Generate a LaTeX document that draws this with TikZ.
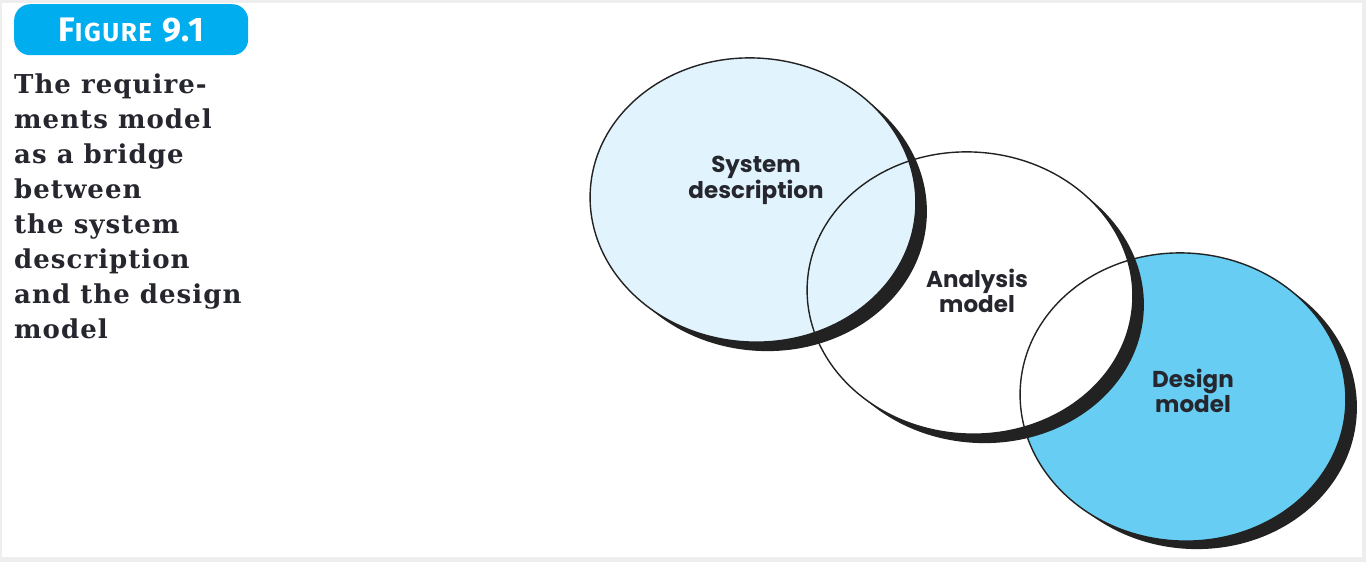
\documentclass[tikz,border=0pt]{standalone}
\usepackage{fontspec}
\setmainfont{DejaVu Serif}[LetterSpace=4]
\newfontfamily\labelfont{Poppins}
\newfontfamily\badgefont{Fira Sans}[LetterSpace=6]
\definecolor{bgray}{HTML}{EEEEEE}
\definecolor{badge}{HTML}{00AEEF}
\definecolor{sysfill}{HTML}{E1F3FC}
\definecolor{desfill}{HTML}{68CDF3}
\definecolor{ink}{HTML}{26262E}
\definecolor{edge}{HTML}{222222}
\tikzset{
  lbl/.style={font=\labelfont\bfseries\fontsize{23}{26}\selectfont, text=ink, inner sep=0pt, anchor=base},
  thinline/.style={draw=edge, line width=1.4pt},
}
\def\ellS{(753,200) ellipse [x radius=163, y radius=142, rotate=-4]}
\def\ellSs{(764,209) ellipse [x radius=163, y radius=142, rotate=-4]}
\def\ellA{(970,293) ellipse [x radius=163, y radius=141, rotate=-4]}
\def\ellAs{(981,302) ellipse [x radius=163, y radius=141, rotate=-4]}
\def\ellD{(1183,397) ellipse [x radius=163, y radius=144, rotate=-4]}
\def\ellDs{(1194,405) ellipse [x radius=163, y radius=144, rotate=-4]}
\begin{document}
\begin{tikzpicture}[x=1pt,y=-1pt]
\useasboundingbox (0,0) rectangle (1366,562);
\fill[bgray] (0,0) rectangle (1366,562);
\fill[white] (2,3) rectangle (1362,557);
% badge
\node[fill=badge, rounded corners=16pt, minimum width=234pt, minimum height=51pt, inner sep=0pt, anchor=north west,
      font=\badgefont\bfseries, text=white] (badge) at (14,4)
  {\fontsize{34}{34}\selectfont F\fontsize{26}{26}\selectfont IGURE\fontsize{34}{34}\selectfont{} 9.1};
% caption
\node[anchor=north west, align=left, inner sep=0pt, text=ink,
      font=\bfseries\fontsize{26}{35}\selectfont] (caption) at (14,74)
  {The require-\\ments model\\as a bridge\\between\\the system\\description\\and the design\\model};
% fills
\fill[desfill] \ellD;
\fill[white] \ellA;
\fill[sysfill] \ellS;
% shadows (shifted ellipse outside the original)
\begin{scope}[even odd rule]
  \clip (0,0) rectangle (1366,562) \ellD;
  \fill[edge] \ellDs;
\end{scope}
\begin{scope}[even odd rule]
  \clip (0,0) rectangle (1366,562) \ellA;
  \fill[edge] \ellAs;
\end{scope}
\begin{scope}[even odd rule]
  \clip (0,0) rectangle (1366,562) \ellS;
  \fill[edge] \ellSs;
\end{scope}
% outlines
\draw[thinline] \ellD;
\draw[thinline] \ellA;
\draw[thinline] \ellS;
% labels
\node[lbl] (s1) at (756,172) {System};
\node[lbl] (s2) at (756,198) {description};
\node[lbl] (a1) at (977,287) {Analysis};
\node[lbl] (a2) at (977,312) {model};
\node[lbl] (d1) at (1193,387) {Design};
\node[lbl] (d2) at (1193,412) {model};
\end{tikzpicture}
\end{document}
